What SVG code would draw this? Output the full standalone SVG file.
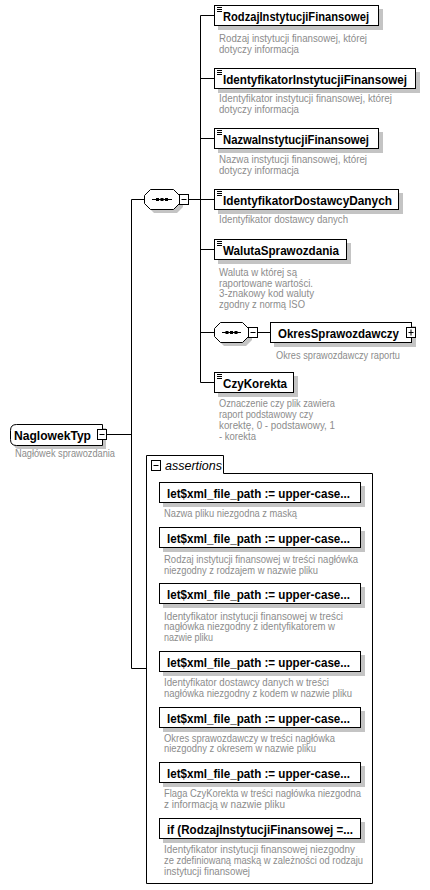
<svg xmlns="http://www.w3.org/2000/svg" width="430" height="890" viewBox="0 0 430 890">
<style>
.bg{fill:#fff}
.box{fill:#fff;stroke:#000;stroke-width:1}
.sh{fill:#c4c4c4}
.ln{stroke:#000;stroke-width:1;fill:none}
.name{font-family:"Liberation Sans",Arial,sans-serif;font-weight:bold;font-size:13px;fill:#000}
.desc{font-family:"Liberation Sans",Arial,sans-serif;font-size:10.5px;fill:#8c8c8c}
.it{font-family:"Liberation Sans",Arial,sans-serif;font-style:italic;font-size:12.5px;fill:#000}
</style>
<rect class="bg" x="0" y="0" width="430" height="890"/>

<g id="connectors">
  <path class="ln" d="M107 434.5H131.5M131.5 199.5V668.5H146M131.5 199.5H144"/>
  <path class="ln" d="M189 199.5H200.5M200.5 15.5V382.5"/>
  <path class="ln" d="M200.5 15.5H214M200.5 78.5H214M200.5 138.5H214M200.5 199.5H214M200.5 249.5H214M200.5 332.5H214M200.5 382.5H214"/>
  <path class="ln" d="M258 332.5H270"/>
</g>

<g id="NaglowekTyp">
  <path class="sh" d="M19 428H106V449H19Q14 449 14 443V434Q14 428 19 428Z"/>
  <path class="box" d="M16.5 424.5H102.5V445.5H16.5Q10.5 445.5 10.5 439.5V430.5Q10.5 424.5 16.5 424.5Z"/>
  <text class="name" x="14" y="439.5" textLength="77" lengthAdjust="spacingAndGlyphs">NaglowekTyp</text>
  <rect class="box" x="97.5" y="429.5" width="9" height="10"/>
  <path class="ln" d="M99.5 434.5H104.5"/>
  <text class="desc" x="15" y="457" textLength="100" lengthAdjust="spacingAndGlyphs">Nagłówek sprawozdania</text>
</g>

<g id="sequence1">
  <path class="sh" d="M154 193H177L183 199V207L177 213H154L148 207V199Z"/>
  <path class="box" d="M150.5 189.5H173.5L179.5 195.5V203.5L173.5 209.5H150.5L144.5 203.5V195.5Z"/>
  <path class="ln" d="M152 199.5H172"/>
  <rect x="156" y="198" width="3" height="3" fill="#000"/>
  <rect x="160.5" y="198" width="3" height="3" fill="#000"/>
  <rect x="165" y="198" width="3" height="3" fill="#000"/>
  <rect class="box" x="179.5" y="194.5" width="9" height="10"/>
  <path class="ln" d="M181.5 199.5H186.5"/>
</g>

<g id="RodzajInstytucjiFinansowej">
  <rect class="sh" x="218" y="9" width="165" height="21"/>
  <rect class="box" x="214.5" y="5.5" width="164" height="20"/>
  <path class="ln" d="M217 7.5H222M217 9.5H222M217 11.5H222"/>
  <text class="name" x="223" y="20.5" textLength="146" lengthAdjust="spacingAndGlyphs">RodzajInstytucjiFinansowej</text>
  <text class="desc" x="219" y="42" textLength="148" lengthAdjust="spacingAndGlyphs">Rodzaj instytucji finansowej, której</text>
  <text class="desc" x="219" y="53" textLength="80" lengthAdjust="spacingAndGlyphs">dotyczy informacja</text>
</g>

<g id="IdentyfikatorInstytucjiFinansowej">
  <rect class="sh" x="218" y="72" width="202" height="21"/>
  <rect class="box" x="214.5" y="68.5" width="201" height="20"/>
  <path class="ln" d="M217 70.5H222M217 72.5H222M217 74.5H222"/>
  <text class="name" x="223" y="83.5" textLength="184" lengthAdjust="spacingAndGlyphs">IdentyfikatorInstytucjiFinansowej</text>
  <text class="desc" x="219" y="102" textLength="173" lengthAdjust="spacingAndGlyphs">Identyfikator instytucji finansowej, której</text>
  <text class="desc" x="219" y="113" textLength="80" lengthAdjust="spacingAndGlyphs">dotyczy informacja</text>
</g>

<g id="NazwaInstytucjiFinansowej">
  <rect class="sh" x="218" y="132" width="165" height="21"/>
  <rect class="box" x="214.5" y="128.5" width="164" height="20"/>
  <path class="ln" d="M217 130.5H222M217 132.5H222M217 134.5H222"/>
  <text class="name" x="223" y="143.5" textLength="146" lengthAdjust="spacingAndGlyphs">NazwaInstytucjiFinansowej</text>
  <text class="desc" x="219" y="163" textLength="148" lengthAdjust="spacingAndGlyphs">Nazwa instytucji finansowej, której</text>
  <text class="desc" x="219" y="174" textLength="80" lengthAdjust="spacingAndGlyphs">dotyczy informacja</text>
</g>

<g id="IdentyfikatorDostawcyDanych">
  <rect class="sh" x="218" y="193" width="185" height="21"/>
  <rect class="box" x="214.5" y="189.5" width="184" height="20"/>
  <path class="ln" d="M217 191.5H222M217 193.5H222M217 195.5H222"/>
  <text class="name" x="223" y="204.5" textLength="169" lengthAdjust="spacingAndGlyphs">IdentyfikatorDostawcyDanych</text>
  <text class="desc" x="219" y="223" textLength="129" lengthAdjust="spacingAndGlyphs">Identyfikator dostawcy danych</text>
</g>

<g id="WalutaSprawozdania">
  <rect class="sh" x="218" y="243" width="133" height="21"/>
  <rect class="box" x="214.5" y="239.5" width="132" height="20"/>
  <path class="ln" d="M217 241.5H222M217 243.5H222M217 245.5H222"/>
  <text class="name" x="223" y="254.5" textLength="116" lengthAdjust="spacingAndGlyphs">WalutaSprawozdania</text>
  <text class="desc" x="219" y="276" textLength="78" lengthAdjust="spacingAndGlyphs">Waluta w której są</text>
  <text class="desc" x="219" y="286.5" textLength="94" lengthAdjust="spacingAndGlyphs">raportowane wartości.</text>
  <text class="desc" x="219" y="297" textLength="95" lengthAdjust="spacingAndGlyphs">3-znakowy kod waluty</text>
  <text class="desc" x="219" y="307.5" textLength="86" lengthAdjust="spacingAndGlyphs">zgodny z normą ISO</text>
</g>

<g id="sequence2">
  <path class="sh" d="M224 326H246L252 332V340L246 346H224L218 340V332Z"/>
  <path class="box" d="M220.5 322.5H242.5L248.5 328.5V336.5L242.5 342.5H220.5L214.5 336.5V328.5Z"/>
  <path class="ln" d="M222 332.5H241"/>
  <rect x="225.5" y="331" width="3" height="3" fill="#000"/>
  <rect x="230" y="331" width="3" height="3" fill="#000"/>
  <rect x="234.5" y="331" width="3" height="3" fill="#000"/>
  <rect class="box" x="248.5" y="327.5" width="9" height="10"/>
  <path class="ln" d="M250.5 332.5H255.5"/>
</g>

<g id="OkresSprawozdawczy">
  <rect class="sh" x="274" y="326" width="142" height="21"/>
  <rect class="box" x="270.5" y="322.5" width="141" height="20"/>
  <text class="name" x="278" y="337.5" textLength="121" lengthAdjust="spacingAndGlyphs">OkresSprawozdawczy</text>
  <rect class="box" x="406.5" y="327.5" width="9" height="10"/>
  <path class="ln" d="M408.5 332.5H413.5M411 329.5V335.5"/>
  <text class="desc" x="276" y="359" textLength="124" lengthAdjust="spacingAndGlyphs">Okres sprawozdawczy raportu</text>
</g>

<g id="CzyKorekta">
  <rect class="sh" x="218" y="376" width="80" height="21"/>
  <rect class="box" x="214.5" y="372.5" width="79" height="20"/>
  <path class="ln" d="M217 374.5H222M217 376.5H222M217 378.5H222"/>
  <text class="name" x="223" y="387.5" textLength="64" lengthAdjust="spacingAndGlyphs">CzyKorekta</text>
  <text class="desc" x="219" y="407" textLength="116" lengthAdjust="spacingAndGlyphs">Oznaczenie czy plik zawiera</text>
  <text class="desc" x="219" y="418" textLength="94" lengthAdjust="spacingAndGlyphs">raport podstawowy czy</text>
  <text class="desc" x="219" y="429" textLength="116" lengthAdjust="spacingAndGlyphs">korektę, 0 - podstawowy, 1</text>
  <text class="desc" x="219" y="440" textLength="37" lengthAdjust="spacingAndGlyphs">- korekta</text>
</g>

<g id="assertions">
  <path class="box" d="M146.5 455.5H223.5V473.5H372.5V883.5H146.5Z"/>
  <rect class="box" x="151.5" y="460.5" width="9" height="10"/>
  <path class="ln" d="M153.5 465.5H158.5"/>
  <text class="it" x="165" y="469.5">assertions</text>
</g>

<g id="assert1">
  <rect class="sh" x="163" y="486" width="202" height="21"/>
  <rect class="box" x="159.5" y="482.5" width="201" height="20"/>
  <text class="name" x="167" y="497.5" textLength="183" lengthAdjust="spacingAndGlyphs">let$xml_file_path := upper-case...</text>
  <text class="desc" x="164" y="517" textLength="133" lengthAdjust="spacingAndGlyphs">Nazwa pliku niezgodna z maską</text>
</g>

<g id="assert2">
  <rect class="sh" x="163" y="531" width="202" height="21"/>
  <rect class="box" x="159.5" y="527.5" width="201" height="20"/>
  <text class="name" x="167" y="542.5" textLength="183" lengthAdjust="spacingAndGlyphs">let$xml_file_path := upper-case...</text>
  <text class="desc" x="164" y="563" textLength="194" lengthAdjust="spacingAndGlyphs">Rodzaj instytucji finansowej w treści nagłówka</text>
  <text class="desc" x="164" y="574" textLength="154" lengthAdjust="spacingAndGlyphs">niezgodny z rodzajem w nazwie pliku</text>
</g>

<g id="assert3">
  <rect class="sh" x="163" y="587" width="202" height="21"/>
  <rect class="box" x="159.5" y="583.5" width="201" height="20"/>
  <text class="name" x="167" y="598.5" textLength="183" lengthAdjust="spacingAndGlyphs">let$xml_file_path := upper-case...</text>
  <text class="desc" x="164" y="619.5" textLength="179" lengthAdjust="spacingAndGlyphs">Identyfikator instytucji finansowej w treści</text>
  <text class="desc" x="164" y="630" textLength="171" lengthAdjust="spacingAndGlyphs">nagłówka niezgodny z identyfikatorem w</text>
  <text class="desc" x="164" y="641" textLength="49" lengthAdjust="spacingAndGlyphs">nazwie pliku</text>
</g>

<g id="assert4">
  <rect class="sh" x="163" y="655" width="202" height="21"/>
  <rect class="box" x="159.5" y="651.5" width="201" height="20"/>
  <text class="name" x="167" y="666.5" textLength="183" lengthAdjust="spacingAndGlyphs">let$xml_file_path := upper-case...</text>
  <text class="desc" x="164" y="686" textLength="165" lengthAdjust="spacingAndGlyphs">Identyfikator dostawcy danych w treści</text>
  <text class="desc" x="164" y="697" textLength="188" lengthAdjust="spacingAndGlyphs">nagłówka niezgodny z kodem w nazwie pliku</text>
</g>

<g id="assert5">
  <rect class="sh" x="163" y="711" width="202" height="21"/>
  <rect class="box" x="159.5" y="707.5" width="201" height="20"/>
  <text class="name" x="167" y="722.5" textLength="183" lengthAdjust="spacingAndGlyphs">let$xml_file_path := upper-case...</text>
  <text class="desc" x="164" y="741.5" textLength="171" lengthAdjust="spacingAndGlyphs">Okres sprawozdawczy w treści nagłówka</text>
  <text class="desc" x="164" y="752" textLength="152" lengthAdjust="spacingAndGlyphs">niezgodny z okresem w nazwie pliku</text>
</g>

<g id="assert6">
  <rect class="sh" x="163" y="766" width="202" height="21"/>
  <rect class="box" x="159.5" y="762.5" width="201" height="20"/>
  <text class="name" x="167" y="777.5" textLength="183" lengthAdjust="spacingAndGlyphs">let$xml_file_path := upper-case...</text>
  <text class="desc" x="164" y="797" textLength="197" lengthAdjust="spacingAndGlyphs">Flaga CzyKorekta w treści nagłówka niezgodna</text>
  <text class="desc" x="164" y="808" textLength="121" lengthAdjust="spacingAndGlyphs">z informacją w nazwie pliku</text>
</g>

<g id="assert7">
  <rect class="sh" x="163" y="822" width="202" height="21"/>
  <rect class="box" x="159.5" y="818.5" width="201" height="20"/>
  <text class="name" x="167" y="833.5" textLength="186" lengthAdjust="spacingAndGlyphs">if (RodzajInstytucjiFinansowej =...</text>
  <text class="desc" x="164" y="853" textLength="191" lengthAdjust="spacingAndGlyphs">Identyfikator instytucji finansowej niezgodny</text>
  <text class="desc" x="164" y="864" textLength="199" lengthAdjust="spacingAndGlyphs">ze zdefiniowaną maską w zależności od rodzaju</text>
  <text class="desc" x="164" y="874.5" textLength="86" lengthAdjust="spacingAndGlyphs">instytucji finansowej</text>
</g>
</svg>
